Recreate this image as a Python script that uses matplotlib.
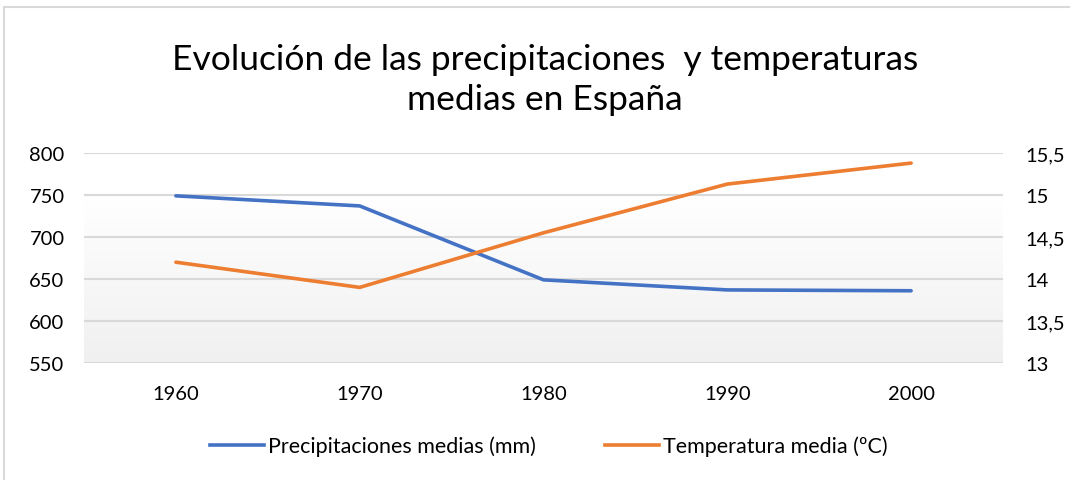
import matplotlib
matplotlib.use('Agg')
import matplotlib.pyplot as plt
import numpy as np
from matplotlib.patches import Rectangle

plt.rcParams['font.family'] = ['Lato', 'DejaVu Sans']

years = ['1960', '1970', '1980', '1990', '2000']
precip = [749, 737, 649, 637, 636]
temp = [14.2, 13.9, 14.55, 15.13, 15.38]

blue = '#4472C4'
orange = '#ED7D31'
grid_color = '#D9D9D9'

fig = plt.figure(figsize=(10.7, 4.81), dpi=100)
# outer chart border
fig.patches.append(Rectangle((4 / 1070, -0.01), 1.1, 1 - 8 / 481 + 0.01, transform=fig.transFigure,
                             fill=False, edgecolor='#D9D9D9', linewidth=1.5))

ax = fig.add_axes([84 / 1070, 1 - 364 / 481, (1003 - 84) / 1070, (364 - 154) / 481])
ax2 = ax.twinx()

# gradient background (white at top to light gray at bottom)
grad = np.linspace(0, 1, 256).reshape(-1, 1)
grad = np.clip((grad - 0.2) / 0.8, 0, 1)
cmap = matplotlib.colors.LinearSegmentedColormap.from_list('bg', ['#FFFFFF', '#F0F0F0'])
ax.imshow(grad, aspect='auto', cmap=cmap, extent=[0, 1, 0, 1], transform=ax.transAxes, zorder=0)

x = np.arange(len(years))
ax.plot(x, precip, color=blue, linewidth=2.6, solid_capstyle='round', zorder=3)
ax2.plot(x, temp, color=orange, linewidth=2.6, solid_capstyle='round', zorder=3)

ax.set_xlim(-0.5, len(years) - 0.5)
ax.set_ylim(550, 800)
ax.set_yticks([550, 600, 650, 700, 750, 800])
ax2.set_ylim(13, 15.5)
ax2.set_yticks([13, 13.5, 14, 14.5, 15, 15.5])
ax2.set_yticklabels(['13', '13,5', '14', '14,5', '15', '15,5'])
ax.set_xticks(x)
ax.set_xticklabels(years)

ax.yaxis.grid(True, color=grid_color, linewidth=1.5)
ax.set_axisbelow(True)
for a in (ax, ax2):
    for s in a.spines.values():
        s.set_visible(False)
    a.tick_params(length=0, labelsize=14.5, colors='black')
ax.tick_params(axis='y', pad=14)
ax2.tick_params(axis='y', pad=16)
ax.tick_params(axis='x', pad=16)
ax.axhline(550, color=grid_color, linewidth=1.5, zorder=1)

fig.text(545 / 1070, 1 - 80 / 481, 'Evolución de las precipitaciones  y temperaturas\nmedias en España',
         ha='center', va='center', fontsize=25.5, linespacing=1.3)

h1, = ax.plot([], [], color=blue, linewidth=2.6, label='Precipitaciones medias (mm)')
h2, = ax.plot([], [], color=orange, linewidth=2.6, label='Temperatura media (ºC)')
fig.legend(handles=[h1, h2], loc='center', bbox_to_anchor=(549 / 1070, 1 - 447 / 481), ncol=2,
           frameon=False, fontsize=15.5, handlelength=2.5, columnspacing=3.2, handletextpad=0.2)

fig.savefig('out.png', dpi=100)
